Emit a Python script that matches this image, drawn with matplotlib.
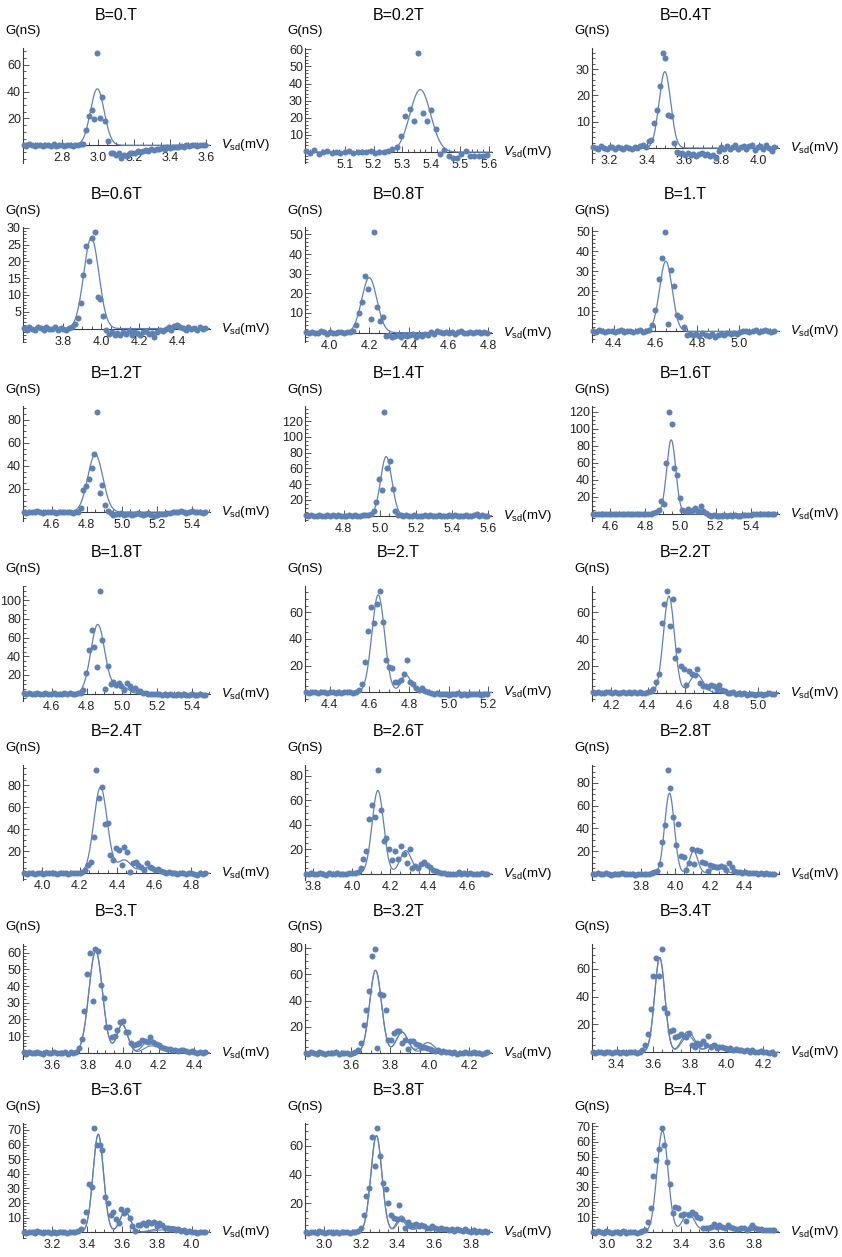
"""
Conductance peaks G(Vsd) for B = 0 ... 4 T, 7x3 grid of small panels.
Points are the measured sweeps, the thin lines are the Gaussian fits.
"""
import numpy as np
import matplotlib
matplotlib.use("Agg")
import matplotlib.pyplot as plt
from matplotlib.ticker import FixedLocator, AutoMinorLocator, FormatStrFormatter

plt.rcParams["font.family"] = ["Liberation Sans", "DejaVu Sans"]
plt.rcParams["mathtext.fontset"] = "custom"
plt.rcParams["mathtext.rm"] = "Liberation Sans"
plt.rcParams["mathtext.it"] = "Liberation Sans:italic"

# ---- data ----
B_LABELS = ["B=0.T", "B=0.2T", "B=0.4T", "B=0.6T", "B=0.8T", "B=1.T", "B=1.2T",
            "B=1.4T", "B=1.6T", "B=1.8T", "B=2.T", "B=2.2T", "B=2.4T", "B=2.6T",
            "B=2.8T", "B=3.T", "B=3.2T", "B=3.4T", "B=3.6T", "B=3.8T", "B=4.T"]

# first Vsd of each sweep (mV) and sweep step (mV)
V_START = [2.59, 4.965, 3.11, 3.59, 3.88, 4.30, 4.44, 4.59, 4.50, 4.44, 4.28,
           4.10, 3.90, 3.76, 3.52, 3.44, 3.37, 3.27, 3.04, 2.90, 2.92]
V_STEP = [0.015, 0.015, 0.015, 0.015, 0.015, 0.015, 0.0155, 0.015, 0.015, 0.0155, 0.015,
          0.015, 0.015, 0.015, 0.0155, 0.0155, 0.014, 0.015, 0.0155, 0.015, 0.015]

# conductance G (nS) for each sweep
G_00 = [0.3, -0.5, 0.6, 0.0, -0.4, 0.5, 0.2, -0.6, 0.4, 0.0, -0.3, 0.6, -0.2, 0.3, 0.0, -0.5,
        0.4, 0.1, -0.3, 0.5, 0.2, 0.7,
        0.7, 11, 21.6, 26.3, 19.4, 68.5, 20.4, 35.8, 18.2, 2.9, -6, -5.6, -7, -6, -9.3, -7,
        -8, -6, -5.5, -6, -4.5, -5, -4, -3.5, -4.5, -3, -3.5, -2.5, -3, -2, -2.5, -1.5,
        -2, -1, -1.5, -1, -0.5, -1, 0, -0.5, 0, 0.5, -0.3, 0.2, 0, 0.3]
G_02 = [0.5, -0.3, 1.0, -1.0, 0.0, 0.6, -0.5, 0.2, -0.4, 0.0, 0.5, -0.6, 0.3, -0.2, 0.0, 0.4,
        -0.5, 0.2, 0.0, 0.5,
        1.9, 2.7, 9.2, 21, 25, 18, 57.7, 23, 18.3, 24.4, 13.5, -1.3, 1.0, -2.3, -3.3, -3.3,
        -1.0, 0.6, -2.3, -2.3, -2.0, -2.0, -1.8]
G_04 = [0.5, 0.2, -0.3, 0.6, 0.0, -0.4, 0.3, 0.5, -0.2, 0.4, 0.0, -0.5, 0.3, 0.2, -0.3, 0.4,
        0.1, 0.8, 1.2,
        0.5, 2.5, 3.1, 9.6, 14.3, 23.5, 36, 34, 12.5, 12.1, 1.9, -1.5, -1.9,
        -2.0, -2.5, -1.8, -2.8, -2.2, -3.0, -2.4, -2.0, -2.6, -2.2, -3.0, -2.5, -3.7,
        -1.0, 0.5, -0.5, 0.8, -0.3, 0.5, 1.0, -0.5, 0.3, 0.9, -0.2, 0.6, 1.0, -0.8, 0.4,
        0.8, -0.5, 1.0, 0.2, -1.2, 0.5]
G_06 = [0.3, -0.4, 0.5, 0.0, -0.5, 0.4, 0.2, -0.3, 0.6, -0.2, 0.0, 0.4, -0.5, 0.3, 0.0, -0.4,
        0.3, 0.6,
        1.4, 3.1, 7.5, 15.9, 24.5, 20.2, 26.9, 28.6, 9.4, 8.7, 3.7, -0.5,
        -1.6, -1.0, -2.0, -1.2, -1.8, -1.0, -1.5, -0.8, -1.8, -1.0, -1.3, -2.0, -1.0, -0.6,
        -1.5, -1.2, -2.5, -1.0, -0.3, -0.8,
        0.0, 0.5, -0.3, 0.8, 1.0, 0.6, 0.2, -0.4, 0.5, 0.0, 0.3, -0.5, 0.4, 0.0, 0.2]
G_08 = [0.3, -0.4, 0.5, 0.0, -0.3, 0.6, 0.2, -0.5, 0.4, 0.0, -0.3, 0.5, 0.1, -0.4, 0.3, 0.2,
        0.8, 4, 10, 15.5, 29, 22, 7, 51, 13, 6, 8, -1.6,
        -1.0, -2.0, -1.5, -1.2, -2.2, -1.0, -1.8, -1.4, -0.8, -2.0, -1.2, -1.5, -0.6, -1.0,
        0.2, -0.5, 0.8, 0.3,
        -0.3, 0.5, 0.0, 0.4, -0.5, 0.2, 0.6, -0.2, 0.0, 0.5, -0.4, 0.3, 0.1, -0.3, 0.4, 0.0]
G_10 = [0.2, -0.4, 0.5, 0.0, -0.3, 0.4, 0.1, -0.5, 0.3, 0.6, -0.2, 0.0, 0.4, -0.3, 0.2, 0.5,
        -0.4, 0.3,
        0.5, 3, 10.6, 26, 36.6, 49.3, 3.6, 30.6, 22.8, 8.1, 7.3, 2.1, -1.6,
        -1.2, -2.0, -1.5, -2.5, -1.0, -1.8, -2.2, -1.4, -2.8, -1.6, -1.2, -2.0, -1.0, -1.5,
        -0.8, -1.2, -0.5,
        0.0, 0.4, -0.3, 0.2, 0.5, -0.2, 0.3, 0.6, 0.0, -0.3, 0.2]
G_12 = [0.3, -0.5, 0.4, 0.0, -0.3, 0.6, 0.2, -0.4, 0.5, -0.2, 0.0, 0.4, -0.5, 0.3, 0.1, -0.3,
        0.5, 0.0, -0.4, 0.3,
        0.5, 3.4, 19, 23, 28.6, 38.3, 50.6, 86.9, 16.3, 23.4, 6.3, 1.4, -1.0, -2.9,
        -1.5, -2.0, -1.0, -2.5, -1.8, -1.2, -2.2, -1.5, -1.0, -2.0, -2.8, -1.5, -1.0, -2.2,
        -3.5, -2.5, -1.8, -2.0, -1.2, -1.0, -0.5, 0.0,
        0.3, -0.2, 1.0, 0.5, -0.4, 0.2, 0.6, -0.3, 0.0, 0.4, -0.5, 0.2]
G_14 = [0.3, -0.4, 0.5, 0.0, -0.3, 0.4, 0.2, -0.5, 0.3, 0.0, 0.5, -0.2, 0.3, -0.4, 0.2, 0.0,
        0.4, -0.3, 0.5, 0.1, -0.2, 0.4, 0.6,
        1.0, 2.5, 5.9, 17, 47, 33, 132, 60, 69, 34, 6, 1.4,
        0.5, -0.5, 0.3, 0.0, -0.4, 0.5, 0.2, -0.3, 0.0, 0.6, -0.5, 0.3, 0.0, -0.2, 0.4, -0.6,
        0.2, 0.0, 0.3, -0.4, 0.5, 0.0, -0.3, 0.2, 0.4, -0.5, 0.0, 0.3, 2.0, -0.2, 0.4, -0.5,
        0.0]
G_16 = [0.3, -0.4, 0.5, 0.0, -0.3, 0.6, 0.2, -0.5, 0.4, 0.0, -0.2, 0.5, -0.3, 0.2, 0.0, 0.4,
        -0.5, 0.3, 0.1, -0.2, 0.4, 0.0, 0.6, 1.0,
        2, 5, 15, 12, 60, 120, 106, 54, 45.5, 18.3, 5.3, 4, 6, 3, 5, 7, 4, 9.3, 3, 1,
        -1.0, -2.0, -1.5, -2.5, -1.8, -2.2, -1.0, -2.0, -1.6, -2.4, -1.2, -1.8, -2.0, -1.0,
        -1.5, -0.8, -1.2, -0.5, 0.0, -0.4, 0.2, -0.3, 0.0, -0.5, 0.3, 0.0]
G_18 = [0.3, -0.4, 0.5, 0.0, -0.3, 0.6, 0.2, -0.5, 0.4, 0.0, -0.2, 0.5, -0.3, 0.2, 0.0, 0.4,
        -0.5, 0.3, 0.1, 0.2, 0.3,
        0.5, 4, 22, 47, 68, 50, 29, 110, 57.5, 5, 30, 10, 12, 9, 11, 8, 4, 11, 8, 5, 6, 3,
        2.5, 1,
        0.5, 0.0, -0.5, 0.2, -0.8, -0.3, -1.0, -0.5, -1.2, -0.6, -1.0, -1.5, -0.8, -1.2,
        -0.5, -1.0, -1.4, -0.6, -1.0, -1.8, -0.8, -1.2, -1.0]
G_20 = [0.3, -0.4, 0.5, 0.0, -0.3, 0.6, 0.2, -0.5, 0.4, 0.0, -0.2, 0.5, -0.3, 0.2, 0.0, 0.4,
        -0.5, 0.5, 2.0,
        6.5, 23, 46, 64, 52, 66, 76, 53, 24, 19, 18.5, 8, 8, 9, 14, 24, 8, 6, 3, 1.5, 3, 1,
        0.5, -0.5, -1.0, -0.3, -1.5, -0.8, -1.2, -2.0, -1.0, -1.5, -0.6, -1.8, -1.2, -2.0,
        -1.0, -1.5, -0.8, -1.2, -2.2, -1.0, -1.5]
G_22 = [0.3, -0.4, 0.5, 0.0, -0.3, 0.6, 0.2, -0.5, 0.4, 0.0, -0.2, 0.5, -0.3, 0.2, 0.0, 0.4,
        -0.5, 0.3, 0.1, -0.2, 0.4,
        1, 3, 8, 14, 52, 66, 76, 50, 70, 26, 32, 20, 18, 6, 16, 14, 13, 18, 7, 5, 5, 4, 6, 5,
        3, 6, 2, 1, 0,
        -0.5, 0.2, -1.0, -0.4, -1.2, -0.6, -1.5, -0.8, -1.0, -2.0, -1.2, -0.8, -1.5, -1.0,
        -0.5, -1.2, -0.8]
G_24 = [0.3, -0.4, 0.5, 0.0, -0.3, 0.6, 0.2, -0.5, 0.4, 0.0, -0.2, 0.5, -0.3, 0.2, 0.0, 0.4,
        -0.5, 0.3, 0.1, -0.2, 0.4,
        1, 3, 7.5, 10.6, 33, 93.6, 68, 78, 45, 46, 16.6, 12, 22.7, 21, 7.5, 24, 19.6, 1, 9,
        10.6, 7.5, 6, 3, 9, 6, 4.5, 3, 4, 2, 1.5, 0.5, 1,
        0.0, 0.4, -0.3, 0.2, 0.5, -0.4, 0.0, 0.3, -0.6, -1.2, 0.2, -0.5, 0.0]
G_26 = [0.3, -0.4, 0.5, 0.0, -0.3, 0.6, 0.2, -0.5, 0.4, 0.0, -0.2, 0.5, -0.3, 0.2, 0.0, 0.4,
        0.5,
        0.5, 1.5, 4.6, 12.3, 18.6, 45, 56.6, 46.4, 84.7, 52, 26.5, 29.5, 20.5, 11, 19, 12.3,
        22.4, 16.4, 9, 20.5, 4.6, 6.8, 4.6, 8.2, 9.6, 7.4, 5.7, 3.5, 2.7, 1.5, 1,
        0.5, 0.0, 0.3, -0.4, 0.2, 1.5, 0.0, 0.4, -0.3, 0.5, 0.0, 0.3, -0.2, 0.4, 0.0, 0.2]
G_28 = [0.3, -0.4, 0.5, 0.0, -0.3, 0.6, 0.2, -0.5, 0.4, 0.0, -0.2, 0.5, -0.3, 0.2, 0.0, 0.4,
        -0.5, 0.3, 0.1, 0.2, -0.3, 0.2,
        0.5, 1.5, 3, 8.8, 28.3, 43, 91.4, 76, 50, 25.4, 43.8, 16, 14.6, 3.5, 9.6, 21.9, 8.8,
        21, 20.4, 10.8, 9.6, 3, 8.2, 7.3, 5.8, 6.4, 7.3, 5.8, 3.5, 9.6, 5.8, 3, 2, 1.5, 1, 2,
        1, 0.5, 1.2, 0.5,
        0.3, 0.8, 0.0, 0.5, -0.2, 0.3, 0.0]
G_30 = [0.3, -0.4, 0.5, 0.0, -0.3, 0.6, 0.2, -0.5, 0.4, 0.0, -0.2, 0.8, -0.3, 0.2, 0.0, 0.4,
        -0.5, 0.3, 0.1, 0.6,
        3, 8.3, 25, 47.4, 60, 31, 62, 61, 40.5, 33, 15.4, 15.8, 9.5, 9.9, 13.8, 18.4, 19,
        12.5, 12.3, 5.9, 4.7, 5.3, 5.9, 8, 7, 6.3, 9.5, 6.7, 5.3, 4.5, 3.6, 3, 2.6, 2.2, 1.6,
        2, 1, 1.5, 2, 1, 0.5, 1, 0.5, 0, 0.8, 0, 0.5]
G_32 = [0.3, -0.4, 0.5, 0.0, -0.3, 0.6, 0.2, -0.5, 0.4, 0.0, -0.2, 0.5, -0.3, 0.2, 0.0, 0.4,
        -0.5, 0.3,
        0.5, 2, 8, 21, 33, 47, 74, 79, 4, 45, 44, 33, 10, 10, 15, 17, 17, 8, 10, 3, 9, 9, 7,
        6, 5, 5, 4, 3, 2, 1.5, 2, 1, 1.5, 0.5, 1, 0,
        0.5, -0.3, 0.4, 0.0, 0.6, -0.2, 0.3, 1.0, 0.0, 0.4, -0.3, 0.2, 0.5]
G_34 = [0.3, -0.4, 0.5, 0.0, -0.3, 0.6, 0.2, -0.5, 0.4, 0.0, -0.2, 0.5, -0.3, 0.2, 0.0, 0.4,
        -0.3,
        0.5, 1.5, 5, 13, 31, 55, 68, 55, 74, 32, 28, 15, 16, 11, 12, 13, 12, 11, 14, 5, 4, 7,
        6, 8, 5, 12, 4, 5, 3, 3.5, 4, 3, 2.5, 3, 2, 2.5, 1.5, 2, 1, 1.5, 0.5, 1.5, 0.5,
        0, 1, 0, 0.5, -0.5, 0.3, -1]
G_36 = [0.3, -0.4, 0.5, 0.0, -0.3, 0.6, 0.2, -0.5, 0.4, 0.0, -0.2, 0.5, -0.3, 0.2, 0.0, 0.4,
        -0.5, 0.3, 0.1,
        0.5, 1, 2, 8, 14, 33, 31, 71, 60, 60, 56, 24, 20, 12, 14, 9, 6, 16, 13, 15, 10, 4, 1,
        5, 5, 6, 5, 7, 6, 7, 4, 6, 5, 3, 3, 2, 2, 1.5, 2.5, 1, 1.5, 0.5, 1, 0, 0.5,
        -0.5, 0.5, 0, 0.3]
G_38 = [0.3, -0.4, 0.5, 0.0, -0.3, 0.6, 0.2, -0.5, 0.4, 0.0, -0.2, 0.5, -0.3, 0.2, 0.0, 0.4,
        -0.5, 0.3,
        0.5, 1, 3, 12, 25, 31, 66, 46, 72, 53, 34, 30, 20, 12, 10, 9, 19, 9, 3, 7, 5, 5, 6, 4,
        5, 4, 3, 3, 4, 3, 2, 3, 2, 2.5, 1.5, 2, 1, 2, 1.5, 1, 2, 1, 0.5, 1.5, 0.5, 1, 0.5, 1,
        0.5]
G_40 = [0.3, -0.4, 0.5, 0.0, -0.3, 0.6, 0.2, -0.5, 0.4, 0.0, -0.2, 0.5, -0.3, 0.2, 0.0, 0.4,
        -0.5, 0.3,
        0.5, 1.5, 6.6, 15.8, 37.2, 47.5, 55.1, 68.7, 58, 46.8, 32.2, 12.5, 16.8, 16.2, 11.4,
        11.8, 7.4, 11.4, 13.1, 11.8, 10.3, 9.6, 3, 2.6, 3, 3.7, 5.3, 3.7, 4.8, 3.7, 3, 4.8,
        3.7, 3, 2.2, 2.2, 2.6, 3, 1.5, 2.6, 4.8, 3, 2.2, 2.2, 1.5, 1.5, 1.5, 1.5, 1.5]

G_DATA = [G_00, G_02, G_04, G_06, G_08, G_10, G_12, G_14, G_16, G_18, G_20,
          G_22, G_24, G_26, G_28, G_30, G_32, G_34, G_36, G_38, G_40]

# Gaussian fit parameters per panel: centres (mV), heights (nS), widths (mV)
FIT_CENTERS = [[2.997], [5.362], [3.497], [3.947], [4.20], [4.65], [4.849], [5.035],
               [4.947], [4.863, 4.99], [4.645, 4.785], [4.515, 4.665], [4.312, 4.44, 4.56],
               [4.135, 4.28, 4.38], [3.965, 4.105, 4.25], [3.845, 3.995, 4.145, 4.22],
               [3.725, 3.86, 3.99], [3.635, 3.79, 3.93], [3.466, 3.62, 3.87],
               [3.285, 3.42, 3.56], [3.30, 3.44, 3.65]]
FIT_HEIGHTS = [[42], [36.5], [29], [27], [28], [35], [50], [75], [87], [74, 9],
               [73, 13], [72, 14], [78, 12, 5], [68, 19, 7], [71, 20, 6], [61, 17, 7, 3],
               [63, 16, 8], [68, 15, 6], [67, 14, 4], [67, 11, 4], [67, 12, 2.5]]
FIT_WIDTHS = [[0.038], [0.036], [0.031], [0.040], [0.038], [0.030], [0.043], [0.031],
              [0.026], [0.040, 0.040], [0.032, 0.025], [0.030, 0.035],
              [0.036, 0.035, 0.040], [0.030, 0.030, 0.030], [0.028, 0.025, 0.040],
              [0.038, 0.030, 0.035, 0.05], [0.030, 0.030, 0.035], [0.028, 0.035, 0.035],
              [0.030, 0.030, 0.070], [0.030, 0.025, 0.060], [0.030, 0.030, 0.150]]
# second (alternative) fit drawn in some panels: heights for the same peaks, None = absent
FIT2_HEIGHTS = [None, None, None, None, None, None, None, None, None, None, None, None,
                None, None, None, [61, 17, 3, 3], [63, 16, 3], [68, 12, 6], [67, 14, 2],
                [67, 8, 4], None]

# tick labels shown on each panel
X_TICKS = [[2.8, 3.0, 3.2, 3.4, 3.6], [5.1, 5.2, 5.3, 5.4, 5.5, 5.6], [3.2, 3.4, 3.6, 3.8, 4.0],
           [3.8, 4.0, 4.2, 4.4], [4.0, 4.2, 4.4, 4.6, 4.8], [4.4, 4.6, 4.8, 5.0],
           [4.6, 4.8, 5.0, 5.2, 5.4], [4.8, 5.0, 5.2, 5.4, 5.6], [4.6, 4.8, 5.0, 5.2, 5.4],
           [4.6, 4.8, 5.0, 5.2, 5.4], [4.4, 4.6, 4.8, 5.0, 5.2], [4.2, 4.4, 4.6, 4.8, 5.0],
           [4.0, 4.2, 4.4, 4.6, 4.8], [3.8, 4.0, 4.2, 4.4, 4.6], [3.8, 4.0, 4.2, 4.4],
           [3.6, 3.8, 4.0, 4.2, 4.4], [3.6, 3.8, 4.0, 4.2], [3.4, 3.6, 3.8, 4.0, 4.2],
           [3.2, 3.4, 3.6, 3.8, 4.0], [3.0, 3.2, 3.4, 3.6, 3.8], [3.0, 3.2, 3.4, 3.6, 3.8]]
Y_TICKS = [[20, 40, 60], [10, 20, 30, 40, 50, 60], [10, 20, 30], [5, 10, 15, 20, 25, 30],
           [10, 20, 30, 40, 50], [10, 20, 30, 40, 50], [20, 40, 60, 80],
           [20, 40, 60, 80, 100, 120], [20, 40, 60, 80, 100, 120], [20, 40, 60, 80, 100],
           [20, 40, 60, 80], [20, 40, 60, 80], [20, 40, 60, 80], [20, 40, 60, 80],
           [20, 40, 60, 80], [10, 20, 30, 40, 50, 60], [20, 40, 60, 80], [20, 40, 60],
           [10, 20, 30, 40, 50, 60, 70], [20, 40, 60], [10, 20, 30, 40, 50, 60, 70]]

POINT_COLOR = "#5E81B5"
AXIS_COLOR = "#3a3a3a"


def fit_curve(v, centers, heights, widths):
    g = np.zeros_like(v)
    for c, h, w in zip(centers, heights, widths):
        g += h * np.exp(-0.5 * ((v - c) / w) ** 2)
    return g


W_PX, H_PX = 842, 1257
COL_LEFT = [23, 305, 592]
AX_W, AX_H = 187, 115

fig = plt.figure(figsize=(W_PX / 100, H_PX / 100), dpi=100)

for k, label in enumerate(B_LABELS):
    r, c = divmod(k, 3)
    title_y = 15 + 179.2 * r
    top = title_y + 33
    left = COL_LEFT[c]
    ax = fig.add_axes([left / W_PX, 1 - (top + AX_H) / H_PX, AX_W / W_PX, AX_H / H_PX])

    g = np.array(G_DATA[k], dtype=float)
    v = V_START[k] + V_STEP[k] * np.arange(len(g))

    span = v[-1] - v[0]
    x0, x1 = v[0] - 0.004 * span, v[-1] + 0.025 * span
    gmin, gmax = min(g.min(), 0.0), g.max()
    pad = 0.05 * (gmax - gmin)
    ax.set_xlim(x0, x1)
    ax.set_ylim(gmin - pad, gmax + pad)

    vv = np.linspace(x0, x1, 800)
    ax.plot(vv, fit_curve(vv, FIT_CENTERS[k], FIT_HEIGHTS[k], FIT_WIDTHS[k]),
            color=POINT_COLOR, lw=0.9, zorder=4)
    if FIT2_HEIGHTS[k] is not None:
        ax.plot(vv, fit_curve(vv, FIT_CENTERS[k], FIT2_HEIGHTS[k], FIT_WIDTHS[k]),
                color=POINT_COLOR, lw=0.8, zorder=4)
    ax.scatter(v, g, s=19, color=POINT_COLOR, linewidths=0, zorder=3, clip_on=False)

    # Mathematica-like axes: x axis through G=0, y axis at the left end
    for side in ("top", "right"):
        ax.spines[side].set_visible(False)
    ax.spines["bottom"].set_position(("data", 0))
    for side in ("bottom", "left"):
        ax.spines[side].set_color(AXIS_COLOR)
        ax.spines[side].set_linewidth(0.8)
    ax.patch.set_visible(False)

    ax.xaxis.set_major_locator(FixedLocator(X_TICKS[k]))
    ax.xaxis.set_major_formatter(FormatStrFormatter("%.1f"))
    ax.yaxis.set_major_locator(FixedLocator(Y_TICKS[k]))
    ax.yaxis.set_major_formatter(FormatStrFormatter("%d"))
    ax.xaxis.set_minor_locator(AutoMinorLocator())
    ax.yaxis.set_minor_locator(AutoMinorLocator())
    ax.tick_params(which="both", direction="in", color=AXIS_COLOR, width=0.6,
                   labelsize=9, labelcolor="#222222")
    ax.tick_params(axis="x", pad=5)
    ax.tick_params(axis="y", pad=1.5)
    ax.tick_params(which="major", length=4)
    ax.tick_params(which="minor", length=2)

    fig.text((left + AX_W / 2) / W_PX, 1 - title_y / H_PX, label,
             ha="center", va="center", fontsize=11.5)
    ax.annotate("G(nS)", xy=(0, 1), xycoords="axes fraction", xytext=(0, 12),
                textcoords="offset points", ha="center", va="center", fontsize=9.5)
    ax.annotate(r"$V_{\mathrm{sd}}$(mV)", xy=(1, 0), xycoords=("axes fraction", "data"),
                xytext=(8, 0), textcoords="offset points", ha="left", va="center",
                fontsize=9.5)

fig.savefig("out.png", dpi=100)
